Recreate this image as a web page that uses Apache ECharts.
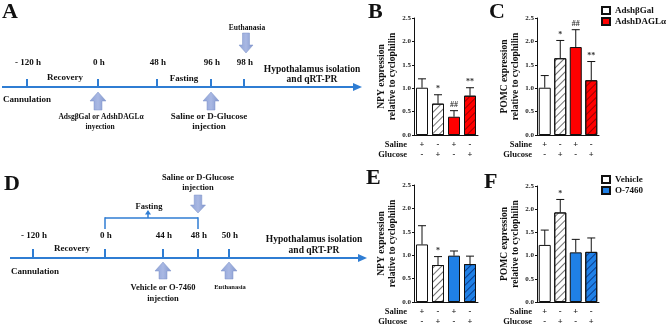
<!DOCTYPE html>
<html><head><meta charset="utf-8">
<script src="https://cdn.jsdelivr.net/npm/echarts@6/dist/echarts.min.js"></script>
<style>html,body{margin:0;padding:0;background:#fff}#c{width:669px;height:328px}</style>
</head><body><div id="c"></div>
<script>
// ---- data ----
const saline = ['+', '-', '+', '-'];
const glucose = ['-', '+', '-', '+'];
const groupOf = [0, 0, 1, 1];          // 0 = control group, 1 = treated group
const hatched = [false, true, false, true];

const bNpyMean = [1.01, 0.67, 0.39, 0.84];
const bNpyErr  = [1.20, 0.86, 0.52, 1.01];
const bNotes   = ['', '*', '##', '**'];

const cPomcMean = [1.01, 1.64, 1.88, 1.17];
const cPomcErr  = [1.27, 2.02, 2.25, 1.57];
const cNotes    = ['', '*', '##', '**'];

const eNpyMean = [1.23, 0.79, 0.99, 0.81];
const eNpyErr  = [1.63, 0.97, 1.09, 0.98];
const eNotes   = ['', '*', '', ''];

const fPomcMean = [1.23, 1.93, 1.07, 1.08];
const fPomcErr  = [1.55, 2.21, 1.35, 1.38];
const fNotes    = ['', '*', '', ''];

const topGroups = ['AdshβGal', 'AdshDAGLα'];
const bottomGroups = ['Vehicle', 'O-7460'];

const timeA = ['- 120 h', '0 h', '48 h', '96 h', '98 h'];
const timeD = ['- 120 h', '0 h', '44 h', '48 h', '50 h'];

// ---- style ----
const SERIF = '"Liberation Serif", "Times New Roman", serif';
const INK = '#111';
const RED = '#ff0000';
const BLUE = '#1f80e6';
const LINE_BLUE = '#2f7dd3';

function hatch(color) {
  return { symbol: 'rect', symbolSize: 1, dashArrayX: [1, 0], dashArrayY: [1, 4], rotation: -Math.PI / 4, color: color };
}

const grids = [], xAxes = [], yAxes = [], series = [];

function panel(gridPos, yName, means, errs, notes, names, color, darkHatch) {
  const gi = grids.length;
  grids.push(Object.assign({ containLabel: false }, gridPos));
  xAxes.push({
    type: 'category', gridIndex: gi,
    data: saline.map((s, i) => s + '\n' + glucose[i]),
    axisTick: { show: false },
    axisLine: { lineStyle: { color: INK, width: 1 } },
    axisLabel: { interval: 0, margin: 5, fontFamily: SERIF, fontWeight: 'bold', fontSize: 8.5, lineHeight: 10, color: INK }
  });
  yAxes.push({
    type: 'value', gridIndex: gi, min: 0, max: 2.5, interval: 0.5,
    name: yName, nameLocation: 'middle', nameRotate: 90, nameGap: 7,
    nameTextStyle: { fontFamily: SERIF, fontWeight: 'bold', fontSize: 9.5, lineHeight: 11, color: INK },
    axisLine: { show: true, lineStyle: { color: INK, width: 1 } },
    axisTick: { show: true, length: 2, lineStyle: { color: INK } },
    splitLine: { show: false },
    axisLabel: { margin: 3, formatter: v => v.toFixed(1), fontFamily: SERIF, fontWeight: 'bold', fontSize: 7, color: '#222' }
  });
  [0, 1].forEach(g => {
    series.push({
      type: 'bar', name: names[g], xAxisIndex: gi, yAxisIndex: gi,
      barWidth: 12, barGap: '-100%',
      itemStyle: { color: g === 0 ? '#fff' : color, borderColor: INK, borderWidth: 1 },
      data: means.map((v, i) => groupOf[i] !== g ? '-' :
        (hatched[i] ? { value: v, itemStyle: { decal: hatch(g === 0 ? 'rgba(0,0,0,0.55)' : darkHatch) } } : v))
    });
  });
  series.push({
    type: 'custom', xAxisIndex: gi, yAxisIndex: gi, z: 10,
    data: means.map((v, i) => [i, v, errs[i]]),
    renderItem: function (params, api) {
      const base = api.coord([api.value(0), api.value(1)]);
      const top = api.coord([api.value(0), api.value(2)]);
      const ch = [
        { type: 'line', shape: { x1: base[0], y1: base[1], x2: top[0], y2: top[1] }, style: { stroke: INK, lineWidth: 1 } },
        { type: 'line', shape: { x1: top[0] - 4, y1: top[1], x2: top[0] + 4, y2: top[1] }, style: { stroke: INK, lineWidth: 1 } }
      ];
      const n = notes[params.dataIndex];
      if (n) ch.push({ type: 'text', x: top[0], y: top[1] - 2,
        style: { text: n, align: 'center', textAlign: 'center', verticalAlign: 'bottom', textVerticalAlign: 'bottom',
                 font: 'bold 8px ' + SERIF, fill: '#333' } });
      return { type: 'group', children: ch };
    }
  });
}

panel({ left: 414, top: 18, width: 64, height: 117 }, 'NPY expression\nrelative to cyclophilin',
      bNpyMean, bNpyErr, bNotes, topGroups, RED, 'rgba(110,0,0,0.7)');
panel({ left: 537, top: 18, width: 62, height: 117 }, 'POMC expression\nrelative to cyclophilin',
      cPomcMean, cPomcErr, cNotes, topGroups, RED, 'rgba(110,0,0,0.7)');
panel({ left: 414, top: 185, width: 64, height: 117 }, 'NPY expression\nrelative to cyclophilin',
      eNpyMean, eNpyErr, eNotes, bottomGroups, BLUE, 'rgba(0,30,100,0.7)');
panel({ left: 537, top: 186, width: 62, height: 116 }, 'POMC expression\nrelative to cyclophilin',
      fPomcMean, fPomcErr, fNotes, bottomGroups, BLUE, 'rgba(0,30,100,0.7)');

// ---- graphic helpers (layout only) ----
const G = [];
function txt(x, y, s, size, align, extra) {
  G.push({ type: 'text', x: x, y: y, z: 20,
    style: Object.assign({ text: s, font: 'bold ' + size + 'px ' + SERIF, fill: INK,
      align: align || 'center', textAlign: align || 'center', verticalAlign: 'middle', textVerticalAlign: 'middle' }, extra || {}) });
}
function seg(x1, y1, x2, y2, w, c) {
  G.push({ type: 'line', z: 15, shape: { x1: x1, y1: y1, x2: x2, y2: y2 }, style: { stroke: c || LINE_BLUE, lineWidth: w || 2 } });
}
function bigArrow(cx, tip, base, hw, sw, hh) {
  const d = base > tip ? 1 : -1;
  G.push({ type: 'polygon', z: 15,
    shape: { points: [[cx, tip], [cx + hw, tip + d * hh], [cx + sw, tip + d * hh], [cx + sw, base], [cx - sw, base], [cx - sw, tip + d * hh], [cx - hw, tip + d * hh]] },
    style: { fill: { type: 'linear', x: 0, y: 0, x2: 1, y2: 0, colorStops: [{ offset: 0, color: '#8ea2d6' }, { offset: 0.5, color: '#a9b8e3' }, { offset: 1, color: '#8196cc' }] },
             stroke: '#7d92c8', lineWidth: 0.5 } });
}
function axisLineArrow(x1, x2, y) {
  seg(x1, y, x2 - 6, y, 2);
  G.push({ type: 'polygon', z: 15, shape: { points: [[x2, y], [x2 - 9, y - 4], [x2 - 9, y + 4]] }, style: { fill: LINE_BLUE } });
}

// panel letters
txt(2, 12, 'A', 22, 'left');
txt(368, 12, 'B', 22, 'left');
txt(489, 12, 'C', 22, 'left');
txt(4, 184, 'D', 22, 'left');
txt(366, 178, 'E', 22, 'left');
txt(484, 182, 'F', 22, 'left');

// Saline / Glucose row titles
[[407, 145], [532, 145], [407, 312], [532, 312]].forEach(p => {
  txt(p[0], p[1], 'Saline', 8.5, 'right');
  txt(p[0], p[1] + 10, 'Glucose', 8.5, 'right');
});

// ---- timeline A ----
const yA = 87;
const tickA = [27, 98, 157, 211, 244];
axisLineArrow(2, 362, yA);
tickA.forEach((x, i) => { seg(x, yA - 8, x, yA, 2); txt(x + 1, 63, timeA[i], 9); });
txt(65, 78, 'Recovery', 9);
txt(184, 79, 'Fasting', 9);
txt(3, 100, 'Cannulation', 9, 'left');
bigArrow(98, 92, 110, 8, 4, 9);
txt(101, 117, 'AdsgβGal or AdshDAGLα', 7.5);
txt(100, 127, 'inyection', 7.5);
bigArrow(211, 92, 110, 8, 4, 9);
txt(209, 117, 'Saline or D-Glucose', 9);
txt(209, 127, 'injection', 9);
txt(247, 28, 'Euthanasia', 7.5);
bigArrow(246, 53, 33, 7, 3.5, 8);
txt(312, 70, 'Hypothalamus isolation', 9.5);
txt(312, 80, 'and qRT-PR', 9.5);

// ---- timeline D ----
const yD = 258;
const tickD = [33, 105, 163, 198, 229];
axisLineArrow(10, 367, yD);
tickD.forEach((x, i) => { seg(x, yD - 9, x, yD, 2); txt(x + 1, 236, timeD[i], 9); });
txt(72, 249, 'Recovery', 9);
txt(11, 272, 'Cannulation', 9, 'left');
seg(105, 218, 198, 218, 1.5);
seg(105, 217.3, 105, 229, 1.5);
seg(198, 217.3, 198, 229, 1.5);
seg(148, 218, 148, 214, 1.5);
G.push({ type: 'polygon', z: 15, shape: { points: [[148, 210], [145, 214.5], [151, 214.5]] }, style: { fill: LINE_BLUE } });
txt(149, 207, 'Fasting', 8.5);
txt(198, 178, 'Saline or D-Glucose', 8.5);
txt(198, 188, 'injection', 8.5);
bigArrow(198, 213, 195, 7.5, 3.8, 8);
bigArrow(163, 262, 279, 8, 4, 9);
txt(163, 288, 'Vehicle or O-7460', 8.5);
txt(163, 299, 'injection', 8.5);
bigArrow(229, 262, 279, 8, 4, 9);
txt(230, 287, 'Euthanasia', 6.5);
txt(314, 240, 'Hypothalamus isolation', 9.5);
txt(314, 251, 'and qRT-PR', 9.5);

const legendStyle = {
  orient: 'vertical', itemWidth: 8, itemHeight: 7, itemGap: 2, icon: 'rect',
  textStyle: { fontFamily: SERIF, fontWeight: 'bold', fontSize: 9, color: INK }, padding: 0
};

const chart = echarts.init(document.getElementById('c'), null, { renderer: 'canvas' });
chart.setOption({
  animation: false,
  backgroundColor: '#fff',
  grid: grids, xAxis: xAxes, yAxis: yAxes, series: series,
  legend: [
    Object.assign({ data: topGroups, left: 601, top: 6 }, legendStyle),
    Object.assign({ data: bottomGroups, left: 601, top: 175 }, legendStyle)
  ],
  graphic: G
});
</script></body></html>
